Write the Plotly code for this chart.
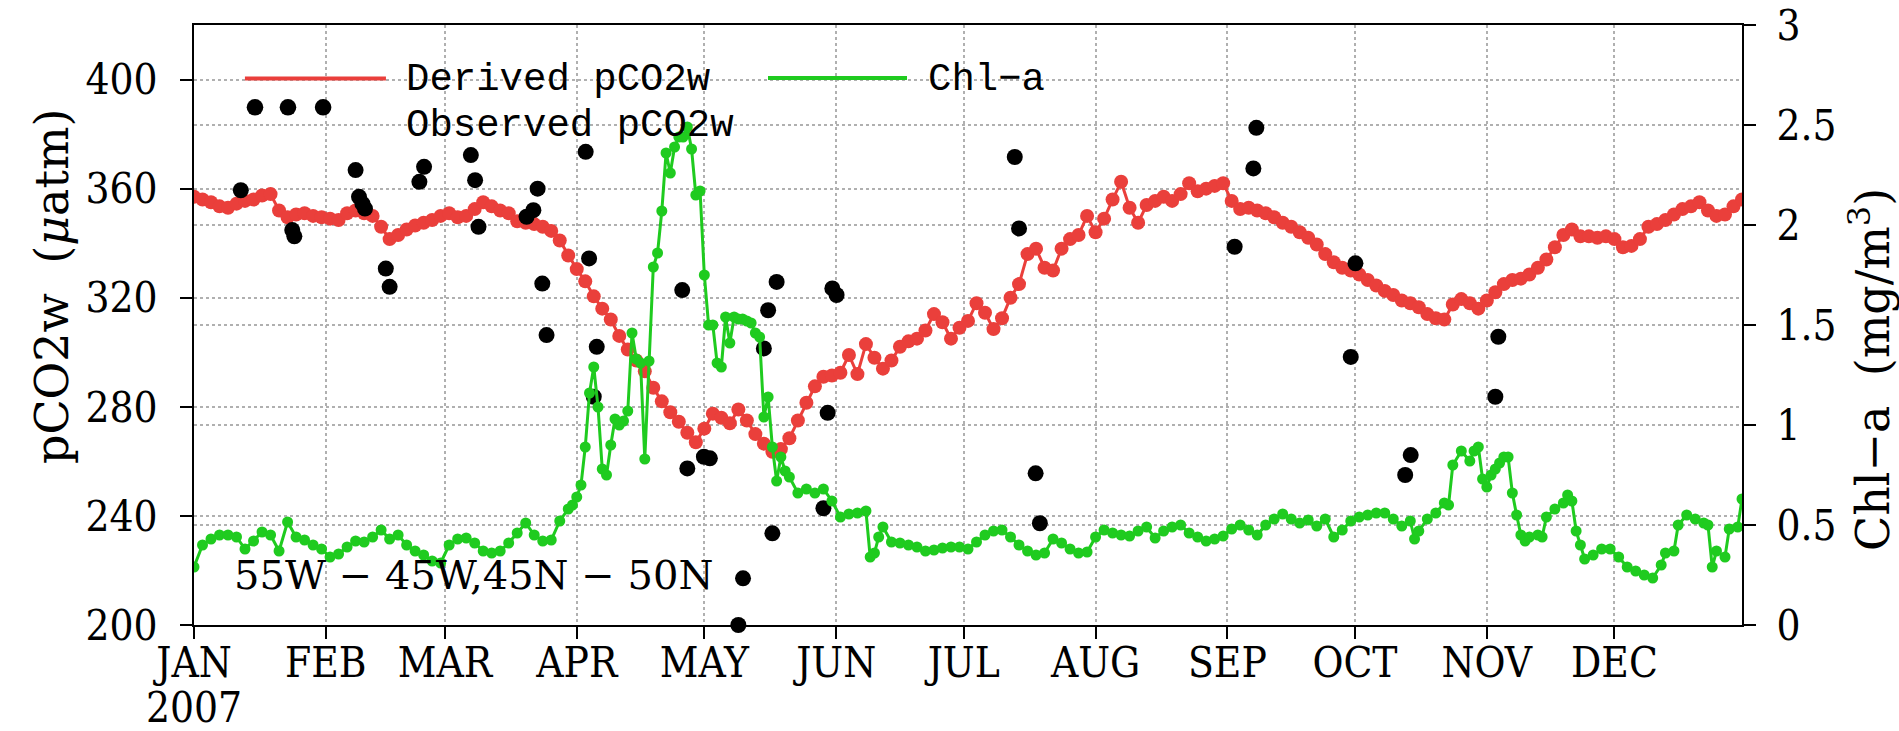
import pandas as pd
import plotly.graph_objects as go

# ---------------- data ----------------
YEAR_START = "2007-01-01"
month_ticks = ["2007-01-01", "2007-02-01", "2007-03-01", "2007-04-01", "2007-05-01", "2007-06-01",
               "2007-07-01", "2007-08-01", "2007-09-01", "2007-10-01", "2007-11-01", "2007-12-01"]
month_labels = ["JAN", "FEB", "MAR", "APR", "MAY", "JUN",
                "JUL", "AUG", "SEP", "OCT", "NOV", "DEC"]
year_label = "2007"

pco2_ticks = [200, 240, 280, 320, 360, 400]
chl_ticks = [0, 0.5, 1, 1.5, 2, 2.5, 3]
chl_tick_labels = ["0", "0.5", "1", "1.5", "2", "2.5", "3"]

# Derived pCO2w (uatm), every second day of 2007 (day 0 = Jan 1)
derived_days = list(range(0, 365, 2))
derived_pco2w = [
    357, 356, 355, 353.5, 353, 354.5, 355.5, 356, 357.5, 358,
    352, 349.5, 350.5, 351, 350, 349.5, 349, 348.5, 351, 352,
    351, 350, 346, 341.5, 343, 345, 346.5, 347.5, 348.5, 350,
    351, 349.5, 350, 352.5, 355, 353.5, 352, 351, 348, 347.5,
    347, 346, 344.5, 341, 335.5, 330.5, 326, 320.5, 316, 312,
    306, 301, 297, 293, 287, 282, 278, 274.5, 270.5, 267,
    272, 277.5, 276, 274, 279, 275, 270, 266.5, 263.5, 264.5,
    268.5, 275, 281.5, 287.5, 291, 291.5, 292.5, 299, 292, 303,
    298, 294, 297, 302, 304, 305, 308, 314, 311, 305,
    309, 311.5, 318, 314.5, 308.5, 312.5, 320, 325, 336, 338,
    331, 330, 338, 341.5, 343, 350, 344, 349, 356, 362.5,
    353, 347.5, 354, 355.5, 357, 355.5, 358, 362, 359, 360,
    361, 362, 355.5, 352.5, 353, 352, 351, 349.5, 347.5, 346,
    344, 342, 339.5, 336, 333, 331, 330, 328.5, 326.5, 324.5,
    322.5, 321, 319, 318, 316.5, 314, 312.5, 312, 317.5, 319.5,
    318, 316, 319, 322, 325, 326.5, 327, 328.5, 331, 334,
    338.5, 343, 345, 342.5, 342.5, 342, 342.5, 341.5, 338.5, 339,
    341.5, 346, 347, 348.5, 350.5, 352.5, 353.5, 355, 352, 350,
    350.5, 353.5, 356,
]

# Chl-a (mg/m3)
chl_days = [
    0, 2, 4, 6, 8, 10, 12, 14, 16, 18,
    20, 22, 24, 26, 28, 30, 32, 34, 36, 38,
    40, 42, 44, 46, 48, 50, 52, 54, 56, 58,
    60, 62, 64, 66, 68, 70, 72, 74, 76, 78,
    80, 82, 84, 86,
    88, 89, 90, 91, 92, 93, 94, 95, 96, 97,
    98, 99, 100, 101, 102, 103, 104, 105, 106, 107,
    108, 109, 110, 111, 112, 113, 114, 115, 116, 117,
    118, 119, 120, 121, 122, 123, 124, 125, 126, 127,
    128, 129, 130, 131, 132, 133, 134, 135, 136, 137,
    138, 139, 140,
    142, 144, 146, 148, 150, 152, 154, 156, 158, 159,
    160, 161, 162, 164, 166, 168, 170, 172, 174, 176,
    178, 180, 182, 184, 186, 188, 190, 192, 194, 196,
    198, 200, 202, 204, 206, 208, 210, 212, 214, 216,
    218, 220, 222, 224, 226, 228, 230, 232, 234, 236,
    238, 240, 242, 244, 246, 248, 250, 252, 254, 256,
    258, 260, 262, 264, 266, 268, 270, 272, 274, 276,
    278, 280, 282, 284, 286, 287, 288, 290, 292, 294,
    295, 296, 298, 300, 301, 302, 303, 304, 305, 306,
    307, 308, 309, 310, 311, 312, 313, 314, 316, 317,
    318, 320, 322, 323, 324, 325, 326, 327, 329, 331,
    333, 335, 337, 339, 341, 343, 345, 346, 348, 349,
    351, 353, 355, 356, 357, 358, 360, 361, 363, 364,
]
chl_mg_m3 = [
    0.29, 0.40, 0.43, 0.45, 0.45, 0.44, 0.38, 0.42, 0.465, 0.45,
    0.37, 0.515, 0.44, 0.425, 0.40, 0.38, 0.34, 0.355, 0.39, 0.42,
    0.415, 0.44, 0.475, 0.43, 0.45, 0.40, 0.37, 0.35, 0.32, 0.31,
    0.40, 0.43, 0.435, 0.41, 0.37, 0.36, 0.37, 0.41, 0.46, 0.51,
    0.45, 0.42, 0.425, 0.52,
    0.58, 0.60, 0.64, 0.70, 0.89, 1.16, 1.29, 1.09, 0.78, 0.75,
    0.90, 1.03, 1.00, 1.02, 1.07, 1.46, 1.33, 1.31, 0.83, 1.32,
    1.79, 1.86, 2.07, 2.36, 2.26, 2.39, 2.44, 2.44, 2.49, 2.38,
    2.15, 2.17, 1.75, 1.50, 1.50, 1.31, 1.29, 1.54, 1.41, 1.54,
    1.53, 1.53, 1.52, 1.51, 1.46, 1.44, 1.04, 1.14, 0.89, 0.72,
    0.84, 0.77, 0.74,
    0.66, 0.68, 0.66, 0.68, 0.62, 0.54, 0.555, 0.56, 0.57, 0.34,
    0.36, 0.44, 0.49, 0.415, 0.41, 0.40, 0.39, 0.37, 0.375, 0.385,
    0.39, 0.39, 0.38, 0.415, 0.45, 0.47, 0.475, 0.44, 0.40, 0.37,
    0.35, 0.36, 0.43, 0.41, 0.38, 0.36, 0.365, 0.44, 0.475, 0.46,
    0.45, 0.445, 0.47, 0.49, 0.435, 0.47, 0.49, 0.50, 0.46, 0.44,
    0.42, 0.43, 0.445, 0.48, 0.50, 0.475, 0.45, 0.50, 0.53, 0.555,
    0.53, 0.51, 0.525, 0.495, 0.53, 0.44, 0.475, 0.52, 0.54, 0.55,
    0.56, 0.56, 0.53, 0.495, 0.52, 0.43, 0.47, 0.53, 0.56, 0.61,
    0.60, 0.80, 0.87, 0.82, 0.87, 0.89, 0.73, 0.69, 0.75, 0.78,
    0.81, 0.84, 0.84, 0.66, 0.55, 0.45, 0.42, 0.44, 0.45, 0.44,
    0.54, 0.58, 0.61, 0.65, 0.62, 0.47, 0.40, 0.33, 0.35, 0.38,
    0.38, 0.34, 0.29, 0.27, 0.25, 0.235, 0.30, 0.36, 0.37, 0.50,
    0.55, 0.53, 0.51, 0.50, 0.29, 0.37, 0.34, 0.48, 0.49, 0.63,
]

# Observed pCO2w (uatm)
obs_days = [11, 23.1, 23.6, 38, 38.8, 39.6, 40.2, 45.1, 46, 53,
            54.1, 65.1, 66.1, 66.9, 78.2, 79.8, 80.8, 81.9, 82.9, 92.1,
            92.9, 94, 94.7, 114.8, 116, 119.9, 121.3, 128, 129.1, 134,
            135, 136, 137, 148, 149, 150.1, 151.1, 193, 194, 197.9,
            198.9, 244.7, 249.1, 249.8, 272, 273.1, 284.8, 286.1, 306, 306.7]
obs_pco2w = [359.4, 344.8, 342.5, 366.8, 357, 354.5, 352.7, 330.7, 324, 362.5,
             368, 372.3, 363.1, 346, 349.7, 352.1, 360, 325.2, 306.3, 373.5,
             334.4, 283.7, 302, 322.8, 257.4, 261.7, 261.1, 200, 217.1, 301.4,
             315.4, 233.6, 325.8, 242.8, 277.8, 323.4, 321, 371.6, 345.4, 255.6,
             237.3, 338.7, 367.4, 382.3, 298.3, 332.6, 255, 262.3, 283.7, 305.7]

# ---------------- styles ----------------
RED = "#ea3f3b"
GREEN = "#1fcb1f"
GRID = "#b0b0b0"
SERIF = "DejaVu Serif"
SERIF_TICK = "DejaVu Serif Condensed, DejaVu Serif"
MONO = "Liberation Mono"

start = pd.Timestamp(YEAR_START)
def to_dates(days):
    return start + pd.to_timedelta(days, unit="D")

fig = go.Figure()

fig.add_trace(go.Scatter(
    x=to_dates(derived_days), y=derived_pco2w, mode="lines+markers",
    line=dict(color=RED, width=3), marker=dict(color=RED, size=14),
    name="Derived pCO2w", yaxis="y", showlegend=False))

fig.add_trace(go.Scatter(
    x=to_dates(obs_days), y=obs_pco2w, mode="markers",
    marker=dict(color="black", size=16), name="Observed pCO2w",
    yaxis="y", showlegend=False, cliponaxis=False))

fig.add_trace(go.Scatter(
    x=to_dates(chl_days), y=chl_mg_m3, mode="lines+markers",
    line=dict(color=GREEN, width=3), marker=dict(color=GREEN, size=11),
    name="Chl-a", yaxis="y2", showlegend=False))

axis_common = dict(
    showline=True, linecolor="black", linewidth=2,
    ticks="outside", ticklen=12, tickwidth=2, tickcolor="black",
    showgrid=True, gridcolor=GRID, griddash="dot", gridwidth=1.5,
    zeroline=False, automargin=False,
)

fig.update_layout(
    width=1899, height=731,
    margin=dict(l=194, r=157, t=25, b=106, pad=0),
    plot_bgcolor="white", paper_bgcolor="white",
    showlegend=False,
    xaxis=dict(
        type="date", range=["2007-01-01", "2007-12-31"],
        tickmode="array", tickvals=month_ticks, ticktext=month_labels,
        tickfont=dict(family=SERIF_TICK, size=42, color="black"),
        mirror=True, ticklabelstandoff=-12,
        **axis_common),
    yaxis=dict(
        range=[200, 420], tickmode="array", tickvals=pco2_ticks,
        tickfont=dict(family=SERIF_TICK, size=42, color="black"),
        ticklabelstandoff=14,
        **axis_common),
    yaxis2=dict(
        range=[0, 3], overlaying="y", side="right",
        tickmode="array", tickvals=chl_ticks, ticktext=chl_tick_labels,
        tickfont=dict(family=SERIF_TICK, size=42, color="black"),
        ticklabelstandoff=12,
        **axis_common),
)

annotations = [
    dict(text=year_label, xref="x", yref="paper", x=month_ticks[0], y=-0.137,
         showarrow=False, xanchor="center", yanchor="middle",
         font=dict(family=SERIF_TICK, size=42, color="black")),
    dict(text="pCO2w  (<i>\u03bc</i>atm)", xref="paper", yref="paper",
         x=-0.0917, y=0.565, textangle=-90, showarrow=False,
         xanchor="center", yanchor="middle",
         font=dict(family=SERIF, size=46, color="black")),
    dict(text="Chl\u2212a  (mg/m<sup>3</sup>)", xref="paper", yref="paper",
         x=1.0827, y=0.425, textangle=-90, showarrow=False,
         xanchor="center", yanchor="middle",
         font=dict(family=SERIF, size=46, color="black")),
    dict(text="55W \u2212 45W,45N \u2212 50N", xref="paper", yref="paper",
         x=0.0244, y=0.0833, showarrow=False, xanchor="left", yanchor="middle",
         font=dict(family=SERIF, size=40, color="black")),
    # legend texts
    dict(text="Derived pCO2w", xref="paper", yref="paper", x=0.1357, y=0.908,
         showarrow=False, xanchor="left", yanchor="middle",
         font=dict(family=MONO, size=39, color="black")),
    dict(text="Observed pCO2w", xref="paper", yref="paper", x=0.1357, y=0.832,
         showarrow=False, xanchor="left", yanchor="middle",
         font=dict(family=MONO, size=39, color="black")),
    dict(text="Chl\u2212a", xref="paper", yref="paper", x=0.4729, y=0.908,
         showarrow=False, xanchor="left", yanchor="middle",
         font=dict(family=MONO, size=39, color="black")),
]

shapes = [
    dict(type="line", xref="paper", yref="paper", x0=0.0329, x1=0.1240, y0=0.911, y1=0.911,
         line=dict(color=RED, width=4)),
    dict(type="line", xref="paper", yref="paper", x0=0.3708, x1=0.4606, y0=0.9117, y1=0.9117,
         line=dict(color=GREEN, width=4)),
]
for xa in (0.0394, 0.0607, 0.0834):
    shapes.append(dict(type="circle", xref="paper", yref="paper",
                       xsizemode="pixel", ysizemode="pixel",
                       xanchor=xa, yanchor=0.8628, x0=-8.3, x1=8.3, y0=-8.3, y1=8.3,
                       fillcolor="black", line=dict(width=0)))

fig.update_layout(annotations=annotations, shapes=shapes)

fig.write_html("out.html")
